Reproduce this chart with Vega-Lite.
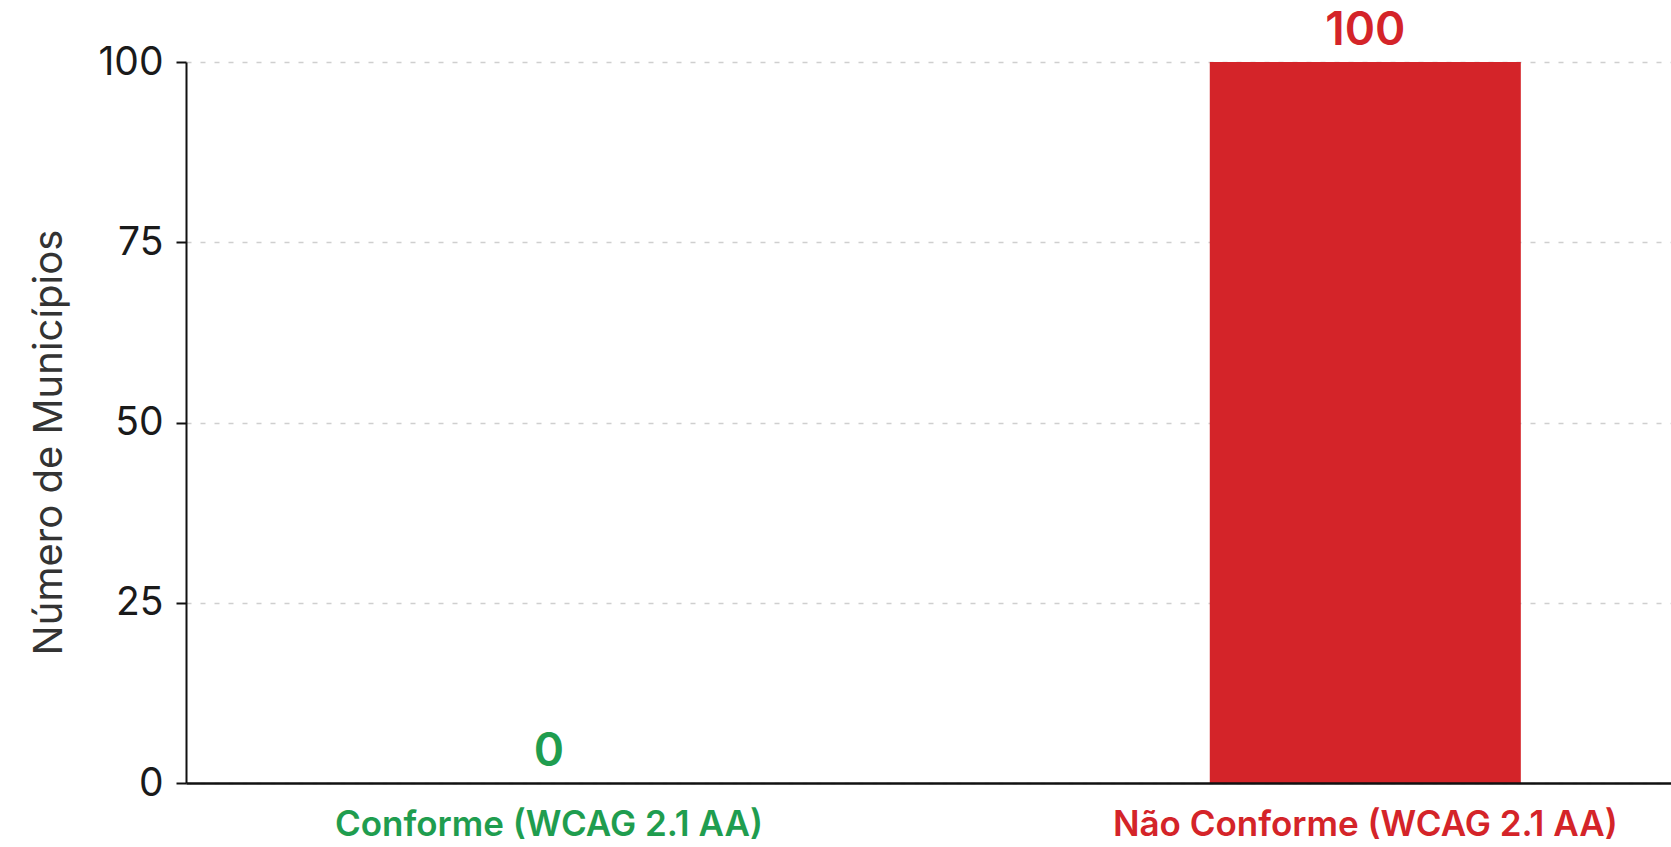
{
  "$schema": "https://vega.github.io/schema/vega-lite/v6.json",
  "autosize": {"type": "none"},
  "padding": {"left": 186, "top": 62, "right": 0, "bottom": 64},
  "width": 1485,
  "height": 721,
  "background": "white",
  "config": {
    "view": {"stroke": null},
    "font": "Inter"
  },
  "data": {
    "values": [
      {"categoria": "Conforme (WCAG 2.1 AA)", "municipios": 0},
      {"categoria": "Não Conforme (WCAG 2.1 AA)", "municipios": 100}
    ]
  },
  "encoding": {
    "x": {
      "field": "categoria",
      "type": "nominal",
      "sort": null,
      "scale": {"paddingInner": 0.619, "paddingOuter": 0.219, "align": 0.58},
      "axis": {
        "title": null,
        "labelAngle": 0,
        "labelLimit": 0,
        "ticks": false,
        "domainColor": "#111111",
        "domainWidth": 2.5,
        "labelFont": "Inter",
        "labelFontSize": 35,
        "labelFontWeight": 600,
        "labelPadding": 24,
        "labelColor": {"expr": "datum.value == 'Conforme (WCAG 2.1 AA)' ? '#1f9d4f' : '#d42429'"},
        "zindex": 1
      }
    },
    "y": {
      "field": "municipios",
      "type": "quantitative",
      "scale": {"domain": [0, 100], "nice": false},
      "axis": {
        "title": "Número de Municípios",
        "values": [0, 25, 50, 75, 100],
        "titleFont": "Inter",
        "titleFontSize": 40,
        "titleFontWeight": "normal",
        "titleColor": "#333333",
        "titlePadding": 28,
        "titleY": 380,
        "labelFont": "Inter",
        "labelFontSize": 39,
        "labelColor": "#1a1a1a",
        "labelPadding": 13,
        "tickSize": 10,
        "tickColor": "#111111",
        "tickWidth": 2,
        "domainColor": "#111111",
        "domainWidth": 2,
        "grid": true,
        "gridColor": "#cfcfcf",
        "gridDash": [5, 9],
        "gridWidth": 1.5
      }
    },
    "color": {
      "field": "categoria",
      "type": "nominal",
      "scale": {"domain": ["Conforme (WCAG 2.1 AA)", "Não Conforme (WCAG 2.1 AA)"], "range": ["#1f9d4f", "#d42429"]},
      "legend": null
    }
  },
  "layer": [
    {"mark": {"type": "bar"}},
    {
      "mark": {"type": "text", "baseline": "alphabetic", "dy": -17, "fontSize": 46, "fontWeight": 600, "font": "Inter"},
      "encoding": {"text": {"field": "municipios", "type": "quantitative"}}
    }
  ]
}
